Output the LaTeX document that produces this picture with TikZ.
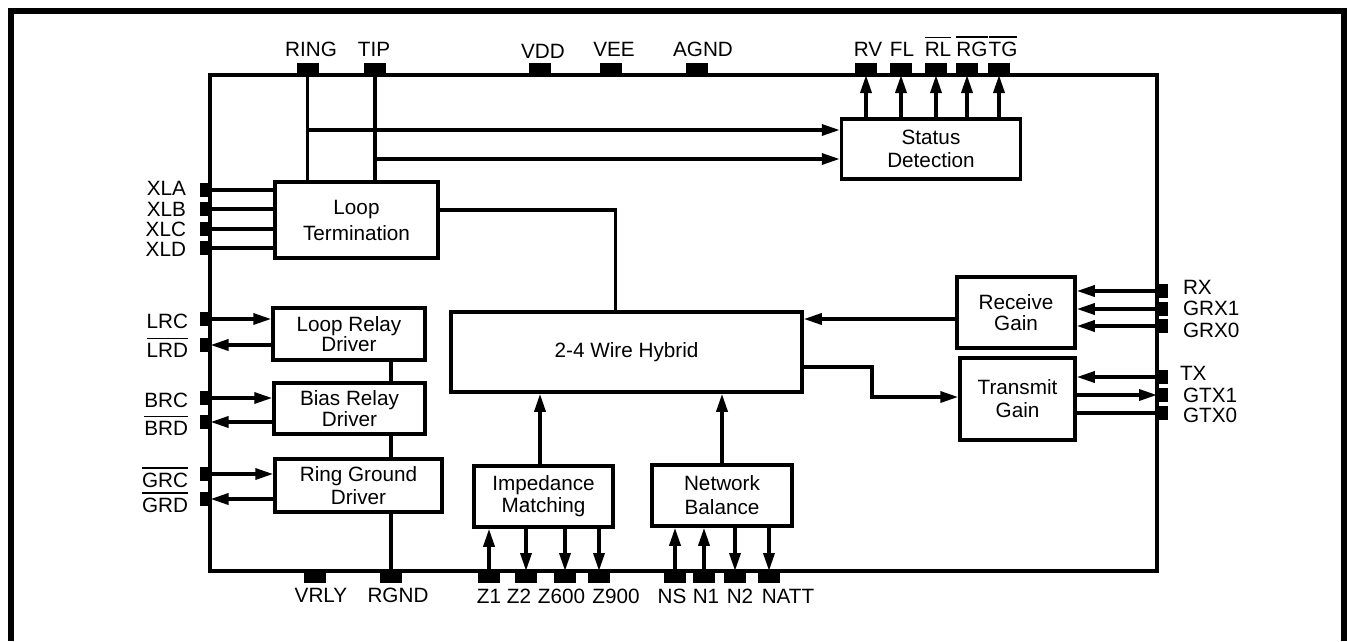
\documentclass[tikz,border=0pt]{standalone}
\usepackage{fontspec}
\setmainfont{Liberation Sans}
\usetikzlibrary{arrows.meta}
\newcommand\myovl[1]{\leavevmode\vbox{\hrule height 1.6pt\kern 3.5pt\hbox{#1}}}
\begin{document}
\begin{tikzpicture}[x=1pt,y=-1pt, line width=3.4pt,
  font=\fontsize{20.7}{24}\selectfont,
  box/.style={draw, line width=3.5pt, inner sep=0pt, align=center},
  pinh/.style={fill=black, draw=none, minimum width=22pt, minimum height=12pt, inner sep=0pt, outer sep=0pt},
  pinv/.style={fill=black, draw=none, minimum width=11pt, minimum height=14pt, inner sep=0pt, outer sep=0pt},
  lbl/.style={inner sep=0pt, outer sep=0pt},
  arr/.style={-{Triangle[length=18pt,width=11pt]}},
  sp/.style={font=\fontsize{20.7}{#1}\selectfont}
]
\path[use as bounding box] (0,0) rectangle (1347,641);
% outer frame (open at bottom)
\draw[line width=5.5pt] (10.8,641) -- (10.8,11) -- (1344,11) -- (1344,641);
% chip outline
\node[draw, line width=3.4pt, minimum width=947pt, minimum height=496pt, inner sep=0pt] (chip) at (683.5,323) {};

% ---- blocks
\node[box, sp=26, minimum width=163pt, minimum height=76pt] (lt) at (356.5,220) {Loop\\Termination};
\node[box, sp=23, minimum width=179pt, minimum height=60pt] (sd) at (931,149) {Status\\Detection};
\node[box, sp=19, minimum width=152pt, minimum height=52pt] (lr) at (349,334) {Loop Relay\\Driver};
\node[box, sp=15, minimum width=151pt, minimum height=51pt] (br) at (349.5,408.5) {Bias Relay\\Driver};
\node[box, sp=23, minimum width=167pt, minimum height=53pt] (rg) at (358.5,485.5) {Ring Ground\\Driver};
\node[box, minimum width=351pt, minimum height=80pt] (hy) at (626.5,352) {2-4 Wire Hybrid};
\node[box, sp=21, minimum width=118pt, minimum height=71pt] (rxg) at (1016,312.5) {Receive\\Gain};
\node[box, sp=23, minimum width=115pt, minimum height=82pt] (txg) at (1017.5,399) {Transmit\\Gain};
\node[box, sp=22, minimum width=139pt, minimum height=61pt] (im) at (543.5,496.5) {Impedance\\Matching};
\node[box, sp=24, minimum width=140pt, minimum height=61pt] (nb) at (722,495.5) {Network\\Balance};

% ---- top pins
\node[pinh] (pring) at (307.5,69) {};
\node[pinh] (ptip) at (375,69) {};
\node[pinh] (pvdd) at (539.5,69) {};
\node[pinh] (pvee) at (611,69) {};
\node[pinh] (pagnd) at (697,69) {};
\node[pinh] (prv) at (866,69) {};
\node[pinh] (pfl) at (901,69) {};
\node[pinh] (prl) at (936,69) {};
\node[pinh] (prg) at (967,69) {};
\node[pinh] (ptg) at (999,69) {};
% ---- bottom pins
\node[pinh] (pvrly) at (315,577) {};
\node[pinh] (prgnd) at (391,577) {};
\node[pinh] (pz1) at (489,577) {};
\node[pinh] (pz2) at (526,577) {};
\node[pinh] (pz600) at (565,577) {};
\node[pinh] (pz900) at (599,577) {};
\node[pinh] (pns) at (675,577) {};
\node[pinh] (pn1) at (704,577) {};
\node[pinh] (pn2) at (735,577) {};
\node[pinh] (pnatt) at (769,577) {};
% ---- left pins
\node[pinv] (pxla) at (205,190) {};
\node[pinv] (pxlb) at (205,209) {};
\node[pinv] (pxlc) at (205,229) {};
\node[pinv] (pxld) at (205,248) {};
\node[pinv] (plrc) at (205,319) {};
\node[pinv] (plrd) at (205,345) {};
\node[pinv] (pbrc) at (205,398) {};
\node[pinv] (pbrd) at (205,422) {};
\node[pinv] (pgrc) at (205,474) {};
\node[pinv] (pgrd) at (205,499) {};
% ---- right pins
\node[pinv] (prx) at (1162.5,291) {};
\node[pinv] (pgrx1) at (1162.5,309) {};
\node[pinv] (pgrx0) at (1162.5,326) {};
\node[pinv] (ptx) at (1162.5,377) {};
\node[pinv] (pgtx1) at (1162.5,395) {};
\node[pinv] (pgtx0) at (1162.5,413) {};

% ---- labels
\node[lbl, anchor=base] (lring) at (311,56) {RING};
\node[lbl, anchor=base] (ltip) at (374,56) {TIP};
\node[lbl, anchor=base] (lvdd) at (543,58) {VDD};
\node[lbl, anchor=base] (lvee) at (614,56) {VEE};
\node[lbl, anchor=base] (lagnd) at (703,56) {AGND};
\node[lbl, anchor=base] (lrv) at (868,56) {RV};
\node[lbl, anchor=base] (lfl) at (902,56) {FL};
\node[lbl, anchor=base] (lrl) at (938,56) {\myovl{RL}};
\node[lbl, anchor=base] (lrg) at (972,56) {\myovl{RG}};
\node[lbl, anchor=base] (ltg) at (1003,56) {\myovl{TG}};

\node[lbl, anchor=base east] (lxla) at (186,195) {XLA};
\node[lbl, anchor=base east] (lxlb) at (186,216.5) {XLB};
\node[lbl, anchor=base east] (lxlc) at (186,236.5) {XLC};
\node[lbl, anchor=base east] (lxld) at (186,256) {XLD};
\node[lbl, anchor=base east] (llrc) at (188,328) {LRC};
\node[lbl, anchor=base east] (llrd) at (188,357) {\myovl{LRD}};
\node[lbl, anchor=base east] (lbrc) at (188,407) {BRC};
\node[lbl, anchor=base east] (lbrd) at (188,435) {\myovl{BRD}};
\node[lbl, anchor=base east] (lgrc) at (188,487) {\myovl{GRC}};
\node[lbl, anchor=base east] (lgrd) at (188,512) {\myovl{GRD}};

\node[lbl, anchor=base west] (lrx) at (1183,294) {RX};
\node[lbl, anchor=base west] (lgrx1) at (1183,315) {GRX1};
\node[lbl, anchor=base west] (lgrx0) at (1183,337) {GRX0};
\node[lbl, anchor=base west] (ltx) at (1180,380) {TX};
\node[lbl, anchor=base west] (lgtx1) at (1183,402) {GTX1};
\node[lbl, anchor=base west] (lgtx0) at (1183,422) {GTX0};

\node[lbl, anchor=base] (lvrly) at (321,602) {VRLY};
\node[lbl, anchor=base] (lrgnd) at (398,602) {RGND};
\node[lbl, anchor=base] (lz1) at (489,603) {Z1};
\node[lbl, anchor=base] (lz2) at (519,603) {Z2};
\node[lbl, anchor=base] (lz600) at (561.5,603) {Z600};
\node[lbl, anchor=base] (lz900) at (616,603) {Z900};
\node[lbl, anchor=base] (lns) at (672,603) {NS};
\node[lbl, anchor=base] (ln1) at (706,603) {N1};
\node[lbl, anchor=base] (ln2) at (740,603) {N2};
\node[lbl, anchor=base] (lnatt) at (788,603) {NATT};

% ---- connectors
\draw (pring.south) -- (pring.south |- lt.north);
\draw (ptip.south) -- (ptip.south |- lt.north);
\coordinate (rj) at (307.5,130);
\coordinate (tj) at (375,159);
\draw[arr] (rj) -- (rj -| sd.west);
\draw[arr] (tj) -- (tj -| sd.west);
\foreach \p in {prv,pfl,prl,prg,ptg}
  \draw[arr] (\p.south |- sd.north) -- (\p.south);

\foreach \p in {pxla,pxlb,pxlc,pxld}
  \draw (\p.east) -- (\p.east -| lt.west);
\coordinate (lth) at (615.5,210);
\draw (lth -| lt.east) -- (lth) -- (lth |- hy.north);

\draw[arr] (plrc.east) -- (plrc.east -| lr.west);
\draw[arr] (plrd.east -| lr.west) -- (plrd.east);
\draw[arr] (pbrc.east) -- (pbrc.east -| br.west);
\draw[arr] (pbrd.east -| br.west) -- (pbrd.east);
\draw[arr] (pgrc.east) -- (pgrc.east -| rg.west);
\draw[arr] (pgrd.east -| rg.west) -- (pgrd.east);
\draw (lr.south -| prgnd) -- (br.north -| prgnd);
\draw (br.south -| prgnd) -- (rg.north -| prgnd);
\draw (rg.south -| prgnd) -- (prgnd.north);

\draw[arr] (pz1.north) -- (pz1.north |- im.south);
\draw[arr] (pz2.north |- im.south) -- (pz2.north);
\draw[arr] (pz600.north |- im.south) -- (pz600.north);
\draw[arr] (pz900.north |- im.south) -- (pz900.north);
\draw[arr] (pns.north) -- (pns.north |- nb.south);
\draw[arr] (pn1.north) -- (pn1.north |- nb.south);
\draw[arr] (pn2.north |- nb.south) -- (pn2.north);
\draw[arr] (pnatt.north |- nb.south) -- (pnatt.north);
\coordinate (imh) at (540,450);
\draw[arr] (imh |- im.north) -- (imh |- hy.south);
\draw[arr] (nb.north) -- (nb.north |- hy.south);

\draw[arr] (prx.west) -- (prx.west -| rxg.east);
\draw[arr] (pgrx1.west) -- (pgrx1.west -| rxg.east);
\draw[arr] (pgrx0.west) -- (pgrx0.west -| rxg.east);
\coordinate (rh) at (803,319);
\draw[arr] (rh -| rxg.west) -- (rh -| hy.east);
\coordinate (tb1) at (872,367);
\coordinate (tb2) at (872,397);
\draw[arr] (tb1 -| hy.east) -- (tb1) -- (tb2) -- (tb2 -| txg.west);
\draw[arr] (ptx.west) -- (ptx.west -| txg.east);
\draw[arr] (pgtx1.west -| txg.east) -- (pgtx1.west);
\draw (pgtx0.west -| txg.east) -- (pgtx0.west);
\end{tikzpicture}
\end{document}
